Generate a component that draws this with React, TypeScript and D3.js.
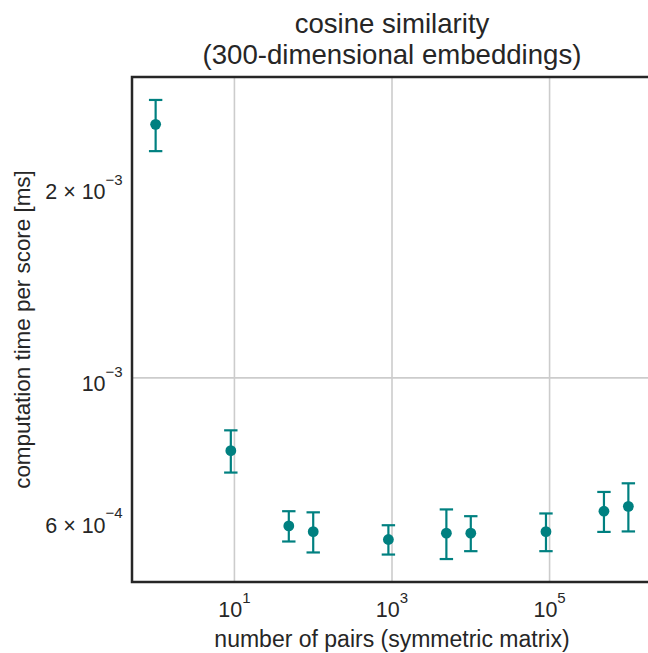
import React from "react";
import * as d3 from "d3";

// ---- data ----
const pairs = [1, 9, 49, 100, 900, 4900, 10000, 90000, 490000, 1000000];
const meanTime = [2.497e-3, 7.69e-4, 5.86e-4, 5.74e-4, 5.58e-4, 5.71e-4, 5.71e-4, 5.74e-4, 6.18e-4, 6.29e-4];
const stdTime = [2.3e-4, 5.85e-5, 3.2e-5, 4.15e-5, 2.95e-5, 5.1e-5, 3.6e-5, 3.9e-5, 4.45e-5, 5.45e-5];

const xTickValues = [10, 1000, 100000];
const xTickExponents = ["1", "3", "5"];
const yGridValues = [1e-3];
const yTickValues = [2e-3, 1e-3, 6e-4];
const yTickMantissas = ["2", "", "6"];
const yTickExponents = ["\u22123", "\u22123", "\u22124"];

const titleLines = ["cosine similarity", "(300-dimensional embeddings)"];
const xLabel = "number of pairs (symmetric matrix)";
const yLabel = "computation time per score [ms]";

// ---- layout ----
const W = 648;
const H = 653;
const left = 132;
const right = 652;
const top = 77;
const bottom = 582;
const teal = "#008080";
const textColor = "#262626";
const font = "'Liberation Sans', Arial, sans-serif";

function logPad(lo: number, hi: number) {
  const a = Math.log10(lo);
  const b = Math.log10(hi);
  const m = (b - a) * 0.05;
  return [Math.pow(10, a - m), Math.pow(10, b + m)];
}

export default function App() {
  const xs = d3.scaleLog().domain(logPad(d3.min(pairs)!, d3.max(pairs)!)).range([left, right]);
  const lows = meanTime.map((m, i) => m - stdTime[i]);
  const highs = meanTime.map((m, i) => m + stdTime[i]);
  const ys = d3.scaleLog().domain(logPad(d3.min(lows)!, d3.max(highs)!)).range([bottom, top]);

  const cx = (left + right) / 2;
  const cy = (top + bottom) / 2;

  return (
    <svg
      width={W}
      height={H}
      style={{ position: "absolute", left: 0, top: 0, background: "#fff" }}
      fontFamily={font}
    >
      <rect x={0} y={0} width={W} height={H} fill="#fff" />
      {/* grid */}
      {xTickValues.map((v, i) => (
        <line key={"gx" + i} x1={xs(v)} x2={xs(v)} y1={top} y2={bottom} stroke="#cccccc" strokeWidth={1.6} />
      ))}
      {yGridValues.map((v, i) => (
        <line key={"gy" + i} x1={left} x2={right} y1={ys(v)} y2={ys(v)} stroke="#cccccc" strokeWidth={1.6} />
      ))}
      {/* error bars */}
      {pairs.map((p, i) => {
        const x = xs(p);
        const y1 = ys(highs[i]);
        const y2 = ys(lows[i]);
        return (
          <g key={"e" + i} stroke={teal} strokeWidth={2.2}>
            <line x1={x} x2={x} y1={y1} y2={y2} />
            <line x1={x - 6.7} x2={x + 6.7} y1={y1} y2={y1} />
            <line x1={x - 6.7} x2={x + 6.7} y1={y2} y2={y2} />
          </g>
        );
      })}
      {pairs.map((p, i) => (
        <circle key={"c" + i} cx={xs(p)} cy={ys(meanTime[i])} r={5.4} fill={teal} />
      ))}
      {/* frame */}
      <rect x={left} y={top} width={right - left} height={bottom - top} fill="none" stroke={textColor} strokeWidth={2.5} />
      {/* x tick labels */}
      {xTickValues.map((v, i) => (
        <text key={"xt" + i} x={xs(v)} y={617} textAnchor="middle" fill={textColor} fontSize={21.5}>
          <tspan>10</tspan>
          <tspan dy={-14.5} fontSize={15}>{xTickExponents[i]}</tspan>
        </text>
      ))}
      {/* y tick labels */}
      {yTickValues.map((v, i) => (
        <text key={"yt" + i} x={122.7} y={ys(v) + 13.5} textAnchor="end" fill={textColor} fontSize={21.5}>
          <tspan>{yTickMantissas[i] ? yTickMantissas[i] + " \u00d7 10" : "10"}</tspan>
          <tspan dy={-14.5} fontSize={15}>{yTickExponents[i]}</tspan>
        </text>
      ))}
      {/* title */}
      {titleLines.map((t, i) => (
        <text key={"t" + i} x={cx} y={33 + i * 30.5} textAnchor="middle" fill={textColor} fontSize={27.6}>
          {t}
        </text>
      ))}
      <text x={cx} y={647} textAnchor="middle" fill={textColor} fontSize={23}>
        {xLabel}
      </text>
      <text transform={`translate(30,${cy}) rotate(-90)`} textAnchor="middle" fill={textColor} fontSize={22.4}>
        {yLabel}
      </text>
    </svg>
  );
}
